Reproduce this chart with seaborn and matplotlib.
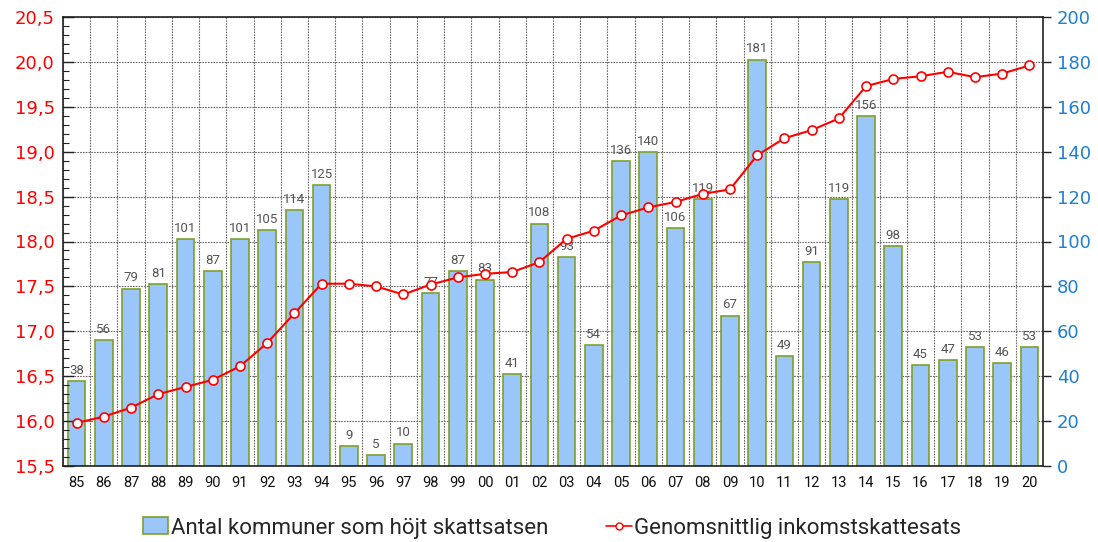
import numpy as np
import pandas as pd
import matplotlib
matplotlib.use("Agg")
import matplotlib.pyplot as plt
import seaborn as sns
from matplotlib import font_manager
from matplotlib.ticker import MultipleLocator, FixedLocator, FuncFormatter
from matplotlib.patches import Patch
from matplotlib.lines import Line2D

years = ["85", "86", "87", "88", "89", "90", "91", "92", "93", "94", "95", "96",
         "97", "98", "99", "00", "01", "02", "03", "04", "05", "06", "07", "08",
         "09", "10", "11", "12", "13", "14", "15", "16", "17", "18", "19", "20"]
counts = [38, 56, 79, 81, 101, 87, 101, 105, 114, 125, 9, 5,
          10, 77, 87, 83, 41, 108, 93, 54, 136, 140, 106, 119,
          67, 181, 49, 91, 119, 156, 98, 45, 47, 53, 46, 53]
rates = [15.98, 16.05, 16.15, 16.30, 16.38, 16.46, 16.61, 16.87, 17.20, 17.53, 17.53, 17.50,
         17.41, 17.52, 17.60, 17.64, 17.66, 17.77, 18.03, 18.12, 18.29, 18.38, 18.44, 18.53,
         18.58, 18.96, 19.15, 19.24, 19.37, 19.73, 19.81, 19.84, 19.89, 19.83, 19.87, 19.96]
bar_label = "Antal kommuner som höjt skattsatsen"
line_label = "Genomsnittlig inkomstskattesats"

sns.set_style("white")
names = {f.name for f in font_manager.fontManager.ttflist}
narrow = "Liberation Sans Narrow" if "Liberation Sans Narrow" in names else "Roboto"
plt.rcParams["font.family"] = ["DejaVu Sans"]

df = pd.DataFrame({"year": years, "count": counts, "rate": rates})

fig = plt.figure(figsize=(10.98, 5.42), dpi=100)
ax = fig.add_axes([63/1098, 1-466/542, (1043-63)/1098, (466-17)/542])

bar_color = "#9ac6fa"
edge_color = "#7f9f2a"
sns.barplot(data=df, x="year", y="count", order=years, ax=ax, color=bar_color,
            saturation=1, edgecolor=edge_color, linewidth=1.2, width=0.65)
ax.set_xlim(-0.5, len(years) - 0.5)
ax.set_ylim(0, 200)
ax.set_xlabel("")
ax.set_ylabel("")

for c in ax.containers:
    labels = ax.bar_label(c, padding=3, fontsize=9.5, color="#555555")
    for l in labels:
        l.set_family(narrow)

ax2 = ax.twinx()
sns.lineplot(x=np.arange(len(years)), y=df["rate"], ax=ax2, color="#ff0000",
             linewidth=1.5, marker="o", markersize=6.5, markerfacecolor="white",
             markeredgecolor="#ff0000", markeredgewidth=1.2)
ax2.set_ylim(15.5, 20.5)
ax2.set_xlim(-0.5, len(years) - 0.5)
ax2.yaxis.tick_left()
ax2.yaxis.set_label_position("left")
ax2.set_ylabel("")
ax2.yaxis.set_major_locator(MultipleLocator(0.5))
ax2.yaxis.set_minor_locator(MultipleLocator(0.1))
ax2.yaxis.set_major_formatter(FuncFormatter(lambda v, p: f"{v:.1f}".replace(".", ",")))
ax2.tick_params(axis="y", which="major", direction="in", length=8, width=1,
                colors="#222222", labelcolor="#ff0000", labelsize=13, pad=6)
ax2.tick_params(axis="y", which="minor", direction="in", length=4, width=0.8, colors="#222222")
for s in ax2.spines.values():
    s.set_visible(False)

# bar axis on the right (twinx moved it to the left, so set it again)
ax.yaxis.tick_right()
ax.yaxis.set_label_position("right")
ax.yaxis.set_major_locator(MultipleLocator(20))
ax.tick_params(axis="y", which="major", direction="out", length=6, width=1,
               colors="#222222", labelcolor="#1f7fd2", labelsize=13, pad=4,
               left=False, labelleft=False, right=True, labelright=True)
for t in ax.get_yticklabels():
    t.set_family("DejaVu Sans")

ax.xaxis.set_minor_locator(FixedLocator(np.arange(-0.5, len(years), 1.0)))
ax.tick_params(axis="x", which="major", length=0, labelsize=10.5, labelcolor="#111111", pad=7)
ax.tick_params(axis="x", which="minor", length=5, width=1, direction="out", color="#222222")
for t in ax.get_xticklabels():
    t.set_family(narrow)

ax.set_axisbelow(True)
ax.grid(axis="y", which="major", color="#6a6a6a", linestyle=(0, (1.5, 1)), linewidth=0.8)
ax.grid(axis="x", which="minor", color="#6a6a6a", linestyle=(0, (1.5, 1)), linewidth=0.8)
ax.grid(axis="x", which="major", visible=False)

for s in ax.spines.values():
    s.set_color("#222222")
    s.set_linewidth(1.2)
    s.set_visible(True)

handles = [Patch(facecolor=bar_color, edgecolor=edge_color, linewidth=1.2),
           Line2D([0], [0], color="#ff0000", linewidth=1.2, marker="o", markersize=5,
                  markerfacecolor="white", markeredgecolor="#ff0000")]
fig.legend(handles, [bar_label, line_label], loc="center", bbox_to_anchor=(552/1098, 1-528/542),
           ncol=2, frameon=False, prop={"family": narrow, "size": 16},
           handlelength=1.15, handletextpad=0.12, columnspacing=2.6, handleheight=0.8)

fig.savefig("out.png", dpi=100)
